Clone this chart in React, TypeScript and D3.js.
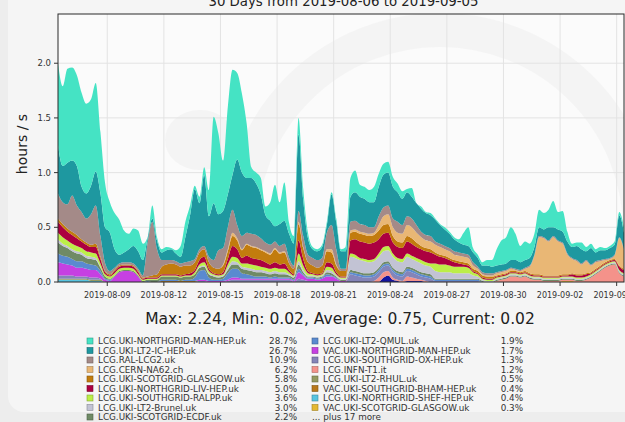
import React from 'react';
import * as d3 from 'd3';

const TITLE = '30 Days from 2019-08-06 to 2019-09-05';
const Y_LABEL = 'hours / s';
const STATS = 'Max: 2.24, Min: 0.02, Average: 0.75, Current: 0.02';
const START_ISO = '2019-08-06T09:20:00Z';
const END_ISO = '2019-09-05T09:20:00Z';
const STEP_HOURS = 6;
const X_TICKS = ['2019-08-09', '2019-08-12', '2019-08-15', '2019-08-18', '2019-08-21', '2019-08-24', '2019-08-27', '2019-08-30', '2019-09-02', '2019-09-05'];
const Y_TICKS = [0, 0.5, 1.0, 1.5, 2.0];
const Y_MAX = 2.45;

const MAN = [
  0.75,0.73,0.86,0.85,0.83,0.86,0.82,0.79,0.81,0.56,
  0.40,0.28,0.33,0.32,0.20,0.14,0.16,0.19,0.15,0.01,
  0.12,0.03,0.03,0.03,0.01,0.03,0.10,0.14,0.09,0.03,
  0.06,0.07,0.24,0.79,0.74,0.46,0.80,0.96,0.79,0.72,
  0.50,0.10,0.10,0.15,0.08,0.17,0.38,0.20,0.35,0.10,
  0.07,0.15,0.10,0.05,0.02,0.02,0.02,0.03,0.02,0.03,
  0.02,0.04,0.17,0.20,0.11,0.11,0.11,0.14,0.12,0.10,
  0.10,0.09,0.08,0.07,0.03,0.08,0.00,0.02,0.01,0.02,
  0.01,0.01,0.02,0.02,0.02,0.03,0.11,0.17,0.04,0.03,
  0.03,0.05,0.06,0.15,0.22,0.24,0.30,0.24,0.15,0.17,
  0.13,0.12,0.16,0.15,0.16,0.24,0.16,0.19,0.09,0.03,
  0.03,0.06,0.04,0.04,0.03,0.03,0.02,0.02,0.03,0.03,
  0.05];
const IC = [
  0.44,0.33,0.38,0.32,0.36,0.23,0.23,0.26,0.31,0.39,
  0.33,0.35,0.17,0.08,0.09,0.12,0.16,0.16,0.14,0.04,
  0.03,0.08,0.07,0.09,0.10,0.07,0.06,0.23,0.42,0.64,
  0.42,0.65,0.37,0.52,0.33,0.34,0.30,0.32,0.60,0.58,
  0.50,0.51,0.47,0.40,0.25,0.22,0.14,0.20,0.21,0.22,
  0.20,0.70,0.33,0.15,0.08,0.08,0.10,0.07,0.28,0.25,
  0.16,0.16,0.23,0.26,0.25,0.24,0.23,0.23,0.27,0.30,
  0.30,0.29,0.27,0.24,0.22,0.20,0.20,0.21,0.20,0.19,
  0.20,0.17,0.15,0.13,0.11,0.09,0.08,0.08,0.09,0.08,
  0.06,0.07,0.06,0.06,0.06,0.06,0.07,0.08,0.07,0.07,
  0.07,0.07,0.08,0.07,0.12,0.08,0.10,0.10,0.11,0.10,
  0.13,0.13,0.08,0.15,0.08,0.09,0.08,0.09,0.09,0.20,
  0.15];
const RAL = [
  0.23,0.20,0.22,0.33,0.27,0.25,0.22,0.28,0.35,0.19,
  0.07,0.03,0.02,0.02,0.02,0.02,0.02,0.02,0.02,0.31,
  0.49,0.23,0.06,0.04,0.03,0.03,0.03,0.03,0.04,0.03,
  0.03,0.03,0.05,0.07,0.17,0.15,0.20,0.21,0.12,0.12,
  0.10,0.11,0.11,0.10,0.08,0.08,0.06,0.06,0.07,0.05,
  0.03,0.10,0.10,0.07,0.07,0.07,0.07,0.15,0.22,0.14,
  0.02,0.02,0.08,0.08,0.07,0.07,0.06,0.05,0.08,0.08,
  0.08,0.08,0.10,0.08,0.08,0.08,0.07,0.05,0.05,0.05,
  0.03,0.03,0.03,0.03,0.03,0.03,0.03,0.03,0.03,0.02,
  0.02,0.02,0.02,0.01,0.01,0.01,0.01,0.01,0.01,0.01,
  0.01,0.01,0.01,0.01,0.01,0.01,0.01,0.01,0.01,0.01,
  0.01,0.01,0.01,0.01,0.01,0.01,0.01,0.01,0.01,0.01,
  0.01];
const CERN = [
  0,0,0,0,0,0,0,0,0,0,
  0,0,0,0,0,0,0,0,0,0,
  0,0,0,0,0,0,0,0,0,0,
  0,0,0,0,0,0.01,0.02,0.03,0.02,0.01,
  0.01,0.01,0.01,0.01,0.01,0.01,0.01,0.01,0.01,0,
  0,0.02,0.01,0,0,0,0,0.02,0.03,0.01,
  0,0,0.02,0.02,0.02,0.02,0.02,0.02,0.05,0.08,
  0.09,0.08,0.08,0.08,0.10,0.10,0.09,0.08,0.07,0.07,
  0.07,0.07,0.06,0.06,0.05,0.05,0.05,0.05,0.03,0.02,
  0.01,0.01,0.01,0.02,0.02,0.02,0.02,0.01,0.01,0.02,
  0.06,0.17,0.34,0.34,0.31,0.35,0.31,0.28,0.18,0.13,
  0.12,0.09,0.11,0.06,0.06,0.04,0.02,0.01,0.03,0.25,
  0.17];
const GLA = [
  0.03,0.03,0.03,0.03,0.03,0.02,0.02,0.02,0.03,0.02,
  0.01,0.01,0.01,0.01,0.01,0.01,0.01,0.01,0.01,0.01,
  0.02,0.03,0.07,0.09,0.10,0.09,0.08,0.08,0.07,0.07,
  0.07,0.07,0.06,0.05,0.05,0.06,0.07,0.09,0.08,0.07,
  0.10,0.10,0.10,0.09,0.09,0.09,0.12,0.10,0.10,0.06,
  0.05,0.15,0.10,0.08,0.07,0.06,0.07,0.10,0.10,0.06,
  0.05,0.05,0.07,0.07,0.07,0.07,0.07,0.07,0.08,0.08,
  0.08,0.06,0.05,0.05,0.05,0.05,0.04,0.03,0.03,0.03,
  0.02,0.02,0.02,0.02,0.02,0.02,0.02,0.02,0.02,0.02,
  0.02,0.02,0.02,0.01,0.01,0.01,0.01,0.01,0.01,0.01,
  0.01,0.01,0.01,0.01,0.01,0.01,0.01,0.01,0.01,0.01,
  0.01,0.01,0.01,0.01,0.01,0.01,0.01,0.01,0.01,0.01,
  0.01];
const LIV = [
  0.10,0.09,0.08,0.08,0.07,0.06,0.06,0.05,0.06,0.04,
  0.02,0.01,0.02,0.02,0.02,0.02,0.02,0.02,0.01,0.01,
  0.01,0.01,0.01,0.01,0.01,0.01,0.01,0.01,0.02,0.02,
  0.04,0.05,0.02,0.01,0.01,0.02,0.05,0.10,0.08,0.05,
  0.07,0.06,0.06,0.06,0.05,0.04,0.05,0.04,0.05,0.02,
  0.01,0.12,0.06,0.02,0.01,0.01,0.01,0.04,0.04,0.02,
  0.01,0.01,0.12,0.14,0.15,0.15,0.15,0.15,0.13,0.12,
  0.12,0.10,0.10,0.10,0.11,0.11,0.10,0.10,0.10,0.10,
  0.08,0.07,0.06,0.05,0.04,0.03,0.02,0.02,0.01,0.01,
  0.01,0.01,0.01,0.01,0.01,0.01,0.01,0.01,0.01,0.01,
  0.01,0.01,0.01,0.01,0.01,0.01,0.01,0.01,0.01,0.02,
  0.02,0.02,0.02,0.01,0.01,0.01,0.01,0.01,0.01,0.03,
  0.03];
const RALPP = [
  0.06,0.06,0.05,0.05,0.05,0.04,0.04,0.04,0.04,0.03,
  0.02,0.02,0.02,0.02,0.02,0.02,0.02,0.01,0.01,0.01,
  0.01,0.01,0.01,0.01,0.01,0.01,0.01,0.01,0.01,0.02,
  0.02,0.03,0.02,0.01,0.01,0.01,0.03,0.04,0.04,0.03,
  0.04,0.04,0.04,0.03,0.03,0.03,0.03,0.03,0.03,0.02,
  0.01,0.07,0.04,0.02,0.01,0.01,0.01,0.03,0.03,0.01,
  0.01,0.01,0.03,0.03,0.02,0.02,0.02,0.02,0.03,0.04,
  0.04,0.03,0.03,0.03,0.03,0.03,0.03,0.03,0.03,0.03,
  0.07,0.07,0.07,0.06,0.06,0.06,0.06,0.05,0.03,0.02,
  0.01,0.01,0.01,0.01,0.01,0.01,0.01,0.01,0.01,0.01,
  0.01,0.01,0.01,0.01,0.01,0.01,0.01,0.01,0.01,0.01,
  0.01,0.01,0.01,0.01,0.01,0.01,0.01,0.01,0.01,0.01,
  0.01];
const BRUNEL = [
  0.03,0.02,0.02,0.02,0.02,0.02,0.02,0.02,0.02,0.01,
  0,0,0,0,0,0,0,0,0,0,
  0,0,0,0,0,0,0,0,0,0,
  0.01,0.01,0.01,0.01,0.01,0.01,0.02,0.03,0.02,0.02,
  0.02,0.02,0.02,0.02,0.02,0.02,0.02,0.02,0.02,0.01,
  0.01,0.03,0.02,0.01,0.01,0.01,0.01,0.02,0.02,0.01,
  0.01,0.01,0.12,0.12,0.11,0.11,0.10,0.10,0.10,0.10,
  0.10,0.10,0.09,0.09,0.09,0.08,0.08,0.08,0.07,0.07,
  0.07,0.06,0.06,0.06,0.05,0.05,0.05,0.05,0.03,0.02,
  0.01,0.01,0.01,0.01,0.01,0.01,0.01,0.01,0.01,0.01,
  0.01,0.01,0.01,0.01,0.01,0.01,0.01,0.01,0.01,0.01,
  0.01,0.01,0.01,0.01,0.01,0.01,0.01,0.01,0.01,0.01,
  0.01];
const ECDF = [
  0.10,0.09,0.08,0.07,0.07,0.06,0.05,0.05,0.05,0.03,
  0.02,0.01,0.01,0.01,0.01,0.01,0.01,0.01,0.01,0.01,
  0.02,0.02,0.03,0.03,0.03,0.03,0.03,0.03,0.03,0.03,
  0.03,0.03,0.03,0.03,0.02,0.02,0.03,0.04,0.04,0.04,
  0.04,0.04,0.04,0.04,0.03,0.03,0.03,0.03,0.03,0.02,
  0.02,0.04,0.02,0.01,0.01,0.01,0.01,0.02,0.02,0.01,
  0.01,0.01,0.02,0.02,0.02,0.02,0.02,0.02,0.02,0.02,
  0.02,0.02,0.02,0.02,0.02,0.02,0.02,0.02,0.02,0.02,
  0.01,0.01,0.01,0.01,0.01,0.01,0.01,0.01,0.01,0.01,
  0.01,0,0,0.01,0.01,0.01,0.01,0.01,0.01,0.01,
  0.01,0.01,0.01,0.01,0.01,0.01,0.01,0.01,0.01,0.01,
  0.01,0.01,0.01,0.01,0.01,0.01,0.01,0.01,0.01,0.01,
  0.01];
const QMUL = [
  0.08,0.07,0.07,0.06,0.06,0.06,0.05,0.05,0.04,0.03,
  0.01,0.01,0,0,0,0,0,0,0,0.01,
  0,0,0.01,0.01,0.01,0.01,0,0.01,0.01,0.03,
  0.08,0.09,0.03,0.01,0.01,0.02,0.06,0.08,0.08,0.05,
  0.04,0.03,0.02,0.02,0.02,0.01,0.02,0.01,0.01,0.01,
  0.01,0.03,0.01,0.01,0.01,0.01,0.01,0.02,0.01,0.01,
  0,0,0.02,0.02,0.02,0.02,0.02,0.02,0.02,0.02,
  0.02,0.02,0.02,0.02,0.02,0.02,0.02,0.02,0.02,0.02,
  0.01,0.01,0.01,0.01,0.01,0.01,0.01,0.01,0.01,0.01,
  0,0,0,0,0,0,0,0,0,0,
  0,0,0,0,0,0,0,0,0,0,
  0,0,0,0,0,0,0,0,0,0,
  0];
const VACMAN = [
  0.12,0.11,0.10,0.09,0.08,0.08,0.07,0.07,0.07,0.04,
  0.02,0.01,0.05,0.09,0.10,0.10,0.09,0.05,0,0,
  0,0,0,0,0,0,0,0,0,0,
  0.01,0.01,0.01,0.01,0.01,0.01,0.01,0.02,0.02,0.01,
  0.01,0.01,0.01,0.01,0.01,0.01,0.01,0.01,0.01,0.01,
  0.01,0.06,0.04,0.02,0.02,0.01,0.02,0.04,0.04,0.02,
  0.01,0.01,0,0,0,0,0,0,0,0,
  0,0,0,0,0,0,0,0,0,0,
  0,0,0,0,0,0,0,0,0,0,
  0,0,0,0,0,0,0,0,0,0,
  0,0,0,0,0,0,0,0,0,0,
  0,0,0,0,0,0,0,0,0,0,
  0];
const OX = [
  0.03,0.03,0.03,0.03,0.02,0.02,0.02,0.02,0.02,0.01,
  0,0,0,0,0,0,0,0,0,0,
  0,0,0,0,0,0,0,0,0,0,
  0.01,0.01,0,0,0,0,0.01,0.02,0.02,0.02,
  0.02,0.02,0.02,0.02,0.02,0.02,0.02,0.02,0.02,0.02,
  0,0.03,0.02,0.01,0.01,0.01,0.01,0.01,0.01,0.01,
  0,0,0.07,0.06,0.05,0.04,0.04,0.04,0.05,0.05,
  0.05,0.05,0.04,0.04,0.05,0.05,0.04,0.03,0.03,0.03,
  0.01,0.01,0.01,0.01,0.01,0.01,0.01,0.01,0.01,0.01,
  0,0,0,0,0,0,0,0,0,0,
  0,0,0,0,0,0,0,0,0,0,
  0,0,0,0,0,0,0,0,0,0,
  0];
const INFN = [
  0,0,0,0,0,0,0,0,0,0,
  0,0,0,0,0,0,0,0,0,0,
  0,0,0,0,0,0,0,0,0,0,
  0,0,0,0,0,0,0,0,0,0,
  0,0,0,0,0,0,0,0,0,0,
  0,0,0,0,0,0,0,0,0,0,
  0,0,0,0,0,0,0,0.01,0.04,0.05,
  0.04,0.02,0.01,0.01,0.04,0.03,0.02,0.01,0.01,0,
  0,0,0,0,0,0,0,0,0,0,
  0,0,0,0.01,0.02,0.03,0.05,0.05,0.04,0.05,
  0.03,0.02,0.02,0.01,0.01,0.01,0.01,0.01,0.01,0.01,
  0.01,0.01,0.02,0.04,0.07,0.10,0.13,0.15,0.16,0.08,
  0.05];
const RHUL = [
  0.01,0.01,0.01,0.01,0.01,0.01,0.01,0.01,0.01,0.01,
  0,0,0,0,0,0,0,0,0,0,
  0,0,0,0,0,0,0,0,0,0,
  0,0,0,0,0,0,0,0,0,0,
  0,0,0,0,0,0,0,0,0,0,
  0,0,0,0,0,0,0,0,0,0,
  0,0,0,0,0,0,0,0,0,0,
  0,0,0,0,0,0,0,0,0,0,
  0,0,0,0,0,0,0,0,0,0,
  0,0,0,0,0,0,0,0,0,0,
  0,0,0,0,0,0,0,0,0,0,
  0,0,0,0,0,0,0,0,0,0,
  0];
const BHAM = [
  0,0,0,0,0,0,0,0,0,0,
  0,0,0,0,0,0,0,0,0,0,
  0,0,0.01,0.01,0.01,0.01,0.01,0.01,0.01,0.01,
  0,0,0,0,0,0,0,0,0,0,
  0,0,0,0,0,0,0,0,0,0,
  0,0,0,0,0,0,0,0,0,0,
  0,0,0,0,0,0,0,0,0,0,
  0,0,0,0,0,0,0,0,0,0,
  0,0,0,0,0,0,0,0,0,0,
  0,0,0,0,0,0,0,0,0,0,
  0,0,0,0,0,0,0,0,0,0,
  0,0,0,0,0,0,0,0,0,0,
  0];
const SHEF = [
  0.02,0.02,0.02,0.02,0.02,0.02,0.02,0.01,0.01,0.01,
  0,0,0,0,0,0,0,0,0,0,
  0,0,0,0,0,0,0,0,0,0,
  0,0,0,0,0,0,0,0,0,0,
  0,0,0,0,0,0,0,0,0,0,
  0,0,0,0,0,0,0,0,0,0,
  0,0,0,0,0,0,0,0,0,0,
  0,0,0,0,0,0,0,0,0,0,
  0,0,0,0,0,0,0,0,0,0,
  0,0,0,0,0,0,0,0,0,0,
  0,0,0,0,0,0,0,0,0,0,
  0,0,0,0,0,0,0,0,0,0,
  0];
const VACGLA = [
  0,0,0,0,0,0,0,0,0,0,
  0,0,0,0,0,0,0,0,0,0,
  0,0,0,0,0,0,0,0,0,0,
  0,0,0,0,0,0,0,0,0,0,
  0,0,0,0,0,0,0,0,0,0,
  0,0,0,0,0,0,0,0,0,0,
  0,0,0,0,0,0,0,0,0,0,
  0,0,0,0,0,0,0,0,0,0,
  0,0,0,0,0,0,0,0,0,0,
  0,0,0,0,0,0,0,0,0,0,
  0,0,0,0,0,0,0,0.01,0.01,0.01,
  0,0,0,0,0,0,0,0,0,0,
  0];
const OTHER = [
  0,0,0,0,0,0,0,0,0,0,
  0,0,0,0,0,0,0,0,0,0,
  0,0,0,0,0,0,0,0,0,0,
  0,0,0,0,0,0,0,0,0,0,
  0,0,0,0,0,0,0,0,0,0,
  0,0,0,0,0,0,0,0,0,0,
  0,0,0,0,0,0,0,0,0,0.04,
  0.06,0.02,0.01,0,0.01,0.01,0.01,0.01,0,0,
  0,0,0,0,0,0,0,0,0,0,
  0,0,0,0,0,0,0,0,0,0,
  0,0,0,0,0,0,0,0,0,0,
  0,0,0,0,0,0,0,0,0,0,
  0];

const LEGEND_NAMES = [
  'LCG.UKI-NORTHGRID-MAN-HEP.uk', 'LCG.UKI-LT2-IC-HEP.uk', 'LCG.RAL-LCG2.uk', 'LCG.CERN-NA62.ch',
  'LCG.UKI-SCOTGRID-GLASGOW.uk', 'LCG.UKI-NORTHGRID-LIV-HEP.uk', 'LCG.UKI-SOUTHGRID-RALPP.uk',
  'LCG.UKI-LT2-Brunel.uk', 'LCG.UKI-SCOTGRID-ECDF.uk', 'LCG.UKI-LT2-QMUL.uk', 'VAC.UKI-NORTHGRID-MAN-HEP.uk',
  'LCG.UKI-SOUTHGRID-OX-HEP.uk', 'LCG.INFN-T1.it', 'LCG.UKI-LT2-RHUL.uk', 'VAC.UKI-SOUTHGRID-BHAM-HEP.uk',
  'LCG.UKI-NORTHGRID-SHEF-HEP.uk', 'VAC.UKI-SCOTGRID-GLASGOW.uk'];
const LEGEND_PCT = ['28.7%', '26.7%', '10.9%', '6.2%', '5.8%', '5.0%', '3.6%', '3.0%', '2.2%', '1.9%', '1.7%', '1.3%', '1.2%', '0.5%', '0.4%', '0.4%', '0.3%'];
const MORE_TEXT = '... plus 17 more';

const SERIES_VALUES = [MAN, IC, RAL, CERN, GLA, LIV, RALPP, BRUNEL, ECDF, QMUL, VACMAN, OX, INFN, RHUL, BHAM, SHEF, VACGLA];
const COLORS = ['#45e3c4', '#1e98a0', '#a48a88', '#e9b775', '#c27c0e', '#ac0040', '#bcee48', '#c2c3d4', '#6f8a66',
  '#5a8ad0', '#c640e2', '#8484b8', '#f4928a', '#949a60', '#b8781a', '#58c4e0', '#e4b832'];
const OTHER_COLOR = '#1414a0';

const FONT = "'DejaVu Sans', sans-serif";

export default function App() {
  const W = 625, H = 422;
  const PL = 58, PR = 624, PT = 14, PB = 282;
  const startMs = Date.parse(START_ISO);
  const N = MAN.length;
  const x = d3.scaleUtc().domain([new Date(START_ISO), new Date(END_ISO)]).range([PL, PR]);
  const y = d3.scaleLinear().domain([0, Y_MAX]).range([PB, PT]);

  const rows = d3.range(N).map((i) => {
    const r: any = { t: new Date(startMs + i * STEP_HOURS * 3600e3), other: OTHER[i] ?? 0 };
    SERIES_VALUES.forEach((s, k) => { r['s' + k] = s[i] ?? 0; });
    return r;
  });
  const keys = ['other', ...SERIES_VALUES.map((_, k) => 's' + k).reverse()];
  const stacked = d3.stack<any>().keys(keys)(rows);
  const area = d3.area<any>()
    .x((d) => x(d.data.t))
    .y0((d) => y(d[0]))
    .y1((d) => y(d[1]))
    .curve(d3.curveMonotoneX);

  const colorOf = (key: string) => key === 'other' ? OTHER_COLOR : COLORS[+key.slice(1)];
  const tickDates = X_TICKS.map((s) => new Date(s + 'T00:00:00Z'));

  const rowY = (r: number) => 341 + r * 9.5;
  const legendItems = LEGEND_NAMES.map((name, k) => {
    const col = k < 9 ? 0 : 1;
    const r = k < 9 ? k : k - 9;
    return { name, pct: LEGEND_PCT[k], color: COLORS[k], col, r };
  });
  const colX = [{ box: 87, text: 98, pct: 297 }, { box: 312, text: 323, pct: 523 }];

  return (
    <svg width={W} height={H} viewBox={`0 0 ${W} ${H}`} style={{ position: 'absolute', left: 0, top: 0, display: 'block' }}>
      <defs>
        <clipPath id="plotclip"><rect x={PL} y={PT} width={PR - PL} height={PB - PT} /></clipPath>
      </defs>
      <rect x={0} y={0} width={W} height={H} fill="#ededed" />
      <rect x={8} y={-30} width={W + 40} height={442} rx={16} fill="#f5f5f5" />
      <rect x={PL} y={PT} width={PR - PL} height={PB - PT} fill="#fbfbfb" />
      <g clipPath="url(#plotclip)" opacity={0.55}>
        <circle cx={440} cy={230} r={200} fill="none" stroke="#efefef" strokeWidth={34} />
        <ellipse cx={200} cy={140} rx={35} ry={30} fill="#efefef" />
      </g>
      {Y_TICKS.map((t) => (
        <line key={'gy' + t} x1={PL} x2={PR} y1={y(t)} y2={y(t)} stroke="#e3e3e3" strokeWidth={1} />
      ))}
      {tickDates.map((d, i) => (
        <line key={'gx' + i} x1={x(d)} x2={x(d)} y1={PT} y2={PB} stroke="#e3e3e3" strokeWidth={1} />
      ))}
      <g clipPath="url(#plotclip)">
        {stacked.map((layer) => (
          <path key={layer.key} d={area(layer as any) || ''} fill={colorOf(layer.key)} stroke="none" />
        ))}
      </g>
      <rect x={PL} y={PT} width={PR - PL} height={PB - PT} fill="none" stroke="#2a2a2a" strokeWidth={1} />
      {Y_TICKS.map((t) => (
        <g key={'ty' + t}>
          <line x1={PL - 4} x2={PL} y1={y(t)} y2={y(t)} stroke="#333" />
          <text x={PL - 7} y={y(t) + 3} textAnchor="end" fontFamily={FONT} fontSize={8.5} fill="#333">{d3.format('.1f')(t)}</text>
        </g>
      ))}
      {tickDates.map((d, i) => (
        <g key={'tx' + i}>
          <line x1={x(d)} x2={x(d)} y1={PB} y2={PB + 4} stroke="#333" />
          <text x={x(d)} y={298} textAnchor="middle" fontFamily={FONT} fontSize={8} fill="#333">{X_TICKS[i]}</text>
        </g>
      ))}
      <text x={343.5} y={6} textAnchor="middle" fontFamily={FONT} fontSize={13.3} fill="#222">{TITLE}</text>
      <text transform={`translate(27,144) rotate(-90)`} textAnchor="middle" fontFamily={FONT} fontSize={14} fill="#222">{Y_LABEL}</text>
      <text x={340} y={323.5} textAnchor="middle" fontFamily={FONT} fontSize={15.5} fill="#222">{STATS}</text>
      {legendItems.map((it) => {
        const c = colX[it.col];
        const cy = rowY(it.r);
        return (
          <g key={it.name}>
            <rect x={c.box} y={cy - 3} width={6} height={6} fill={it.color} stroke={d3.color(it.color)!.darker(1).formatHex()} strokeWidth={0.6} />
            <text x={c.text} y={cy + 3} fontFamily={FONT} fontSize={8.8} fill="#333">{it.name}</text>
            <text x={c.pct} y={cy + 3} textAnchor="end" fontFamily={FONT} fontSize={8.8} fill="#333">{it.pct}</text>
          </g>
        );
      })}
      <text x={colX[1].box} y={rowY(8) + 3} fontFamily={FONT} fontSize={8.8} fill="#333">{MORE_TEXT}</text>
    </svg>
  );
}
